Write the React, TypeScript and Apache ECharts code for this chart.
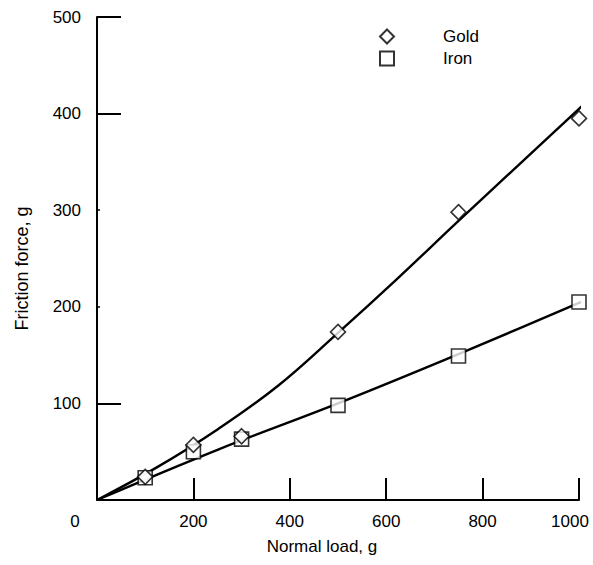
import React, { useEffect, useRef } from "react";
import * as echarts from "echarts";

const xTicks = [0, 200, 400, 600, 800, 1000];
const yTicks = [0, 100, 200, 300, 400, 500];
const goldPoints: [number, number][] = [
  [100, 24], [200, 57], [300, 66], [500, 174], [750, 298], [1000, 395],
];
const ironPoints: [number, number][] = [
  [100, 23], [200, 50], [300, 63], [500, 98], [750, 149], [1000, 205],
];
const goldCurve: [number, number][] = [
  [0, 0], [125, 34], [250, 73], [375, 118], [500, 173],
  [625, 230], [750, 289], [875, 347], [1000, 405], [1035, 421],
];
const ironCurve: [number, number][] = [
  [0, 0], [250, 52], [500, 100], [750, 151], [1000, 204], [1035, 211],
];

const FONT = '"Liberation Sans", Arial, sans-serif';

export default function App() {
  const ref = useRef<HTMLDivElement>(null);
  useEffect(() => {
    if (!ref.current) return;
    const chart = echarts.init(ref.current, undefined, { renderer: "svg" });
    chart.setOption({
      animation: false,
      backgroundColor: "#fff",
      textStyle: { fontFamily: FONT, color: "#000" },
      grid: { left: 97, right: 14, top: 17, bottom: 65, containLabel: false, outerBoundsMode: "none" },
      legend: {
        orient: "vertical",
        left: 379,
        top: 28,
        padding: 0,
        itemWidth: 14,
        itemHeight: 14,
        itemGap: 5,
        data: ["Gold", "Iron"],
        textStyle: { fontFamily: FONT, fontSize: 17, color: "#000", padding: [0, 0, 0, 44], lineHeight: 14 },
      },
      xAxis: {
        type: "value",
        min: 0,
        max: 1000,
        interval: 200,
        name: "Normal load, g",
        nameLocation: "middle",
        nameGap: 38,
        nameTextStyle: { fontFamily: FONT, fontSize: 17, color: "#000", padding: [0, 32, 0, 0] },
        axisLine: { show: true, lineStyle: { color: "#000", width: 2 } },
        axisTick: { show: true, inside: true, length: 22, lineStyle: { color: "#000", width: 2 } },
        axisLabel: {
          fontFamily: FONT, fontSize: 17, color: "#000", margin: 13,
          formatter: (v: number) => (v === 0 ? "" : v === 1000 ? "{m|1000}" : String(v)),
          rich: { m: { fontFamily: FONT, fontSize: 17, color: "#000", padding: [0, 18, 0, 0] } },
        },
        splitLine: { show: false },
      },
      yAxis: [
        {
          type: "value",
          min: 0,
          max: 500,
          interval: 100,
          name: "Friction force, g",
          nameLocation: "middle",
          nameGap: 66,
          nameRotate: 90,
          nameTextStyle: { fontFamily: FONT, fontSize: 18, color: "#000", padding: [0, 20, 0, 0] },
          axisLine: { show: true, lineStyle: { color: "#000", width: 2 } },
          axisTick: {
            show: true, inside: true, length: 24,
            customValues: [100, 400, 500],
            lineStyle: { color: "#000", width: 2 },
          },
          axisLabel: {
            fontFamily: FONT, fontSize: 17, color: "#000", margin: 16,
            formatter: (v: number) => (v === 0 ? "" : String(v)),
          },
          splitLine: { show: false },
        },
        {
          type: "value",
          min: 0,
          max: 500,
          interval: 100,
          position: "left",
          axisLine: { show: false },
          axisTick: {
            show: true, inside: true, length: 3,
            customValues: [200, 300],
            lineStyle: { color: "#000", width: 1.5 },
          },
          axisLabel: { show: false },
          splitLine: { show: false },
        },
      ],
      graphic: [
        {
          type: "text",
          x: 75,
          y: 521,
          style: { text: "0", fontFamily: FONT, fontSize: 17, fill: "#000", align: "center", verticalAlign: "middle" },
        },
      ],
      series: [
        {
          name: "goldCurve",
          type: "line",
          data: goldCurve,
          smooth: 0.4,
          showSymbol: false,
          clip: false,
          lineStyle: { color: "#000", width: 2.4 },
          z: 2,
          silent: true,
        },
        {
          name: "ironCurve",
          type: "line",
          data: ironCurve,
          smooth: 0.4,
          showSymbol: false,
          clip: false,
          lineStyle: { color: "#000", width: 2.4 },
          z: 2,
          silent: true,
        },
        {
          name: "Gold",
          type: "scatter",
          data: goldPoints,
          symbol: "diamond",
          symbolSize: 15,
          itemStyle: { color: "#fff", borderColor: "#000", borderWidth: 1.6 },
          z: 5,
        },
        {
          name: "Iron",
          type: "scatter",
          data: ironPoints,
          symbol: "rect",
          symbolSize: 14,
          itemStyle: { color: "#fff", borderColor: "#000", borderWidth: 1.6 },
          z: 4,
        },
      ],
    });
    return () => chart.dispose();
  }, []);
  return <div ref={ref} style={{ position: "fixed", left: 0, top: 0, width: 593, height: 565 }} />;
}
